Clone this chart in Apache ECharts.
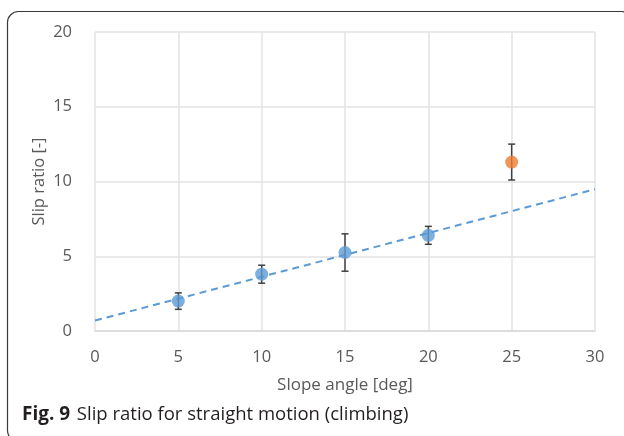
<!DOCTYPE html>
<html>
<head>
<meta charset="utf-8">
<script src="https://cdn.jsdelivr.net/npm/echarts@6/dist/echarts.min.js"></script>
<style>
html,body{margin:0;padding:0;background:#fff;}
#chart{width:624px;height:436px;}
</style>
</head>
<body>
<div id="chart"></div>
<script>
// Data
var xTicks = [0, 5, 10, 15, 20, 25, 30];
var blueX = [5, 10, 15, 20];
var blueY = [2.0, 3.8, 5.25, 6.4];
var blueErr = [0.55, 0.6, 1.25, 0.6];
var orangeX = [25];
var orangeY = [11.3];
var orangeErr = [1.2];
var trendX = [0, 30];
var trendY = [0.7, 9.48];

var blueData = blueX.map(function (x, i) { return [x, blueY[i]]; });
var orangeData = orangeX.map(function (x, i) { return [x, orangeY[i]]; });
var trendData = trendX.map(function (x, i) { return [x, trendY[i]]; });
var errData = blueX.map(function (x, i) { return [x, blueY[i] - blueErr[i], blueY[i] + blueErr[i]]; })
  .concat(orangeX.map(function (x, i) { return [x, orangeY[i] - orangeErr[i], orangeY[i] + orangeErr[i]]; }));

var chart = echarts.init(document.getElementById('chart'), null, {renderer: 'canvas'});
var font = '"Open Sans", "Noto Sans", sans-serif';
var option = {
  animation: false,
  backgroundColor: '#fff',
  grid: {left: 95, right: 29, top: 32, bottom: 105, containLabel: false},
  xAxis: {
    type: 'value', min: 0, max: 30, interval: 5,
    name: 'Slope angle [deg]', nameLocation: 'middle', nameGap: 46,
    nameTextStyle: {fontFamily: font, fontSize: 17, color: '#595959'},
    axisLine: {show: true, lineStyle: {color: '#d9d9d9', width: 1.5}},
    axisTick: {show: false},
    axisLabel: {fontFamily: font, fontSize: 16.5, color: '#595959', margin: 18},
    splitLine: {show: true, lineStyle: {color: '#e3e3e3', width: 1.5}}
  },
  yAxis: {
    type: 'value', min: 0, max: 20, interval: 5,
    name: 'Slip ratio [-]', nameLocation: 'middle', nameGap: 47, nameRotate: 90,
    nameMoveOverlap: false,
    nameTextStyle: {fontFamily: font, fontSize: 16.5, color: '#595959'},
    axisLine: {show: false},
    axisTick: {show: false},
    axisLabel: {fontFamily: font, fontSize: 16.5, color: '#595959', margin: 23},
    splitLine: {show: true, lineStyle: {color: '#e3e3e3', width: 1.5}}
  },
  series: [
    {
      type: 'line', data: trendData, symbol: 'none', silent: true, z: 2,
      lineStyle: {color: '#5B9BD5', width: 2, type: [7, 5]}
    },
    {
      type: 'custom', z: 3, data: errData,
      renderItem: function (params, api) {
        var x = api.value(0);
        var lo = api.coord([x, api.value(1)]);
        var hi = api.coord([x, api.value(2)]);
        var w = 3.5;
        var st = {stroke: '#404040', lineWidth: 1.5};
        return {
          type: 'group',
          children: [
            {type: 'line', shape: {x1: lo[0], y1: lo[1], x2: hi[0], y2: hi[1]}, style: st},
            {type: 'line', shape: {x1: lo[0] - w, y1: lo[1], x2: lo[0] + w, y2: lo[1]}, style: st},
            {type: 'line', shape: {x1: hi[0] - w, y1: hi[1], x2: hi[0] + w, y2: hi[1]}, style: st}
          ]
        };
      }
    },
    {
      type: 'scatter', data: blueData, symbol: 'circle', symbolSize: 13, z: 4,
      itemStyle: {color: '#5B9BD5'}
    },
    {
      type: 'scatter', data: orangeData, symbol: 'circle', symbolSize: 13, z: 4,
      itemStyle: {color: '#ED7D31'}
    }
  ],
  graphic: [
    {
      type: 'rect', left: 5, top: 9, z: 0, silent: true,
      shape: {width: 625, height: 430, r: 11},
      style: {fill: 'none', stroke: '#3a3a3a', lineWidth: 1.2}
    },
    {
      type: 'text', left: 22, top: 405, z: 10,
      style: {
        text: '{b|Fig. 9}  {n|Slip ratio for straight motion (climbing)}',
        rich: {
          b: {fontFamily: font, fontWeight: 'bold', fontSize: 19, fill: '#231f20'},
          n: {fontFamily: font, fontSize: 18.5, fill: '#231f20'}
        }
      }
    }
  ]
};
chart.setOption(option);
</script>
</body>
</html>
